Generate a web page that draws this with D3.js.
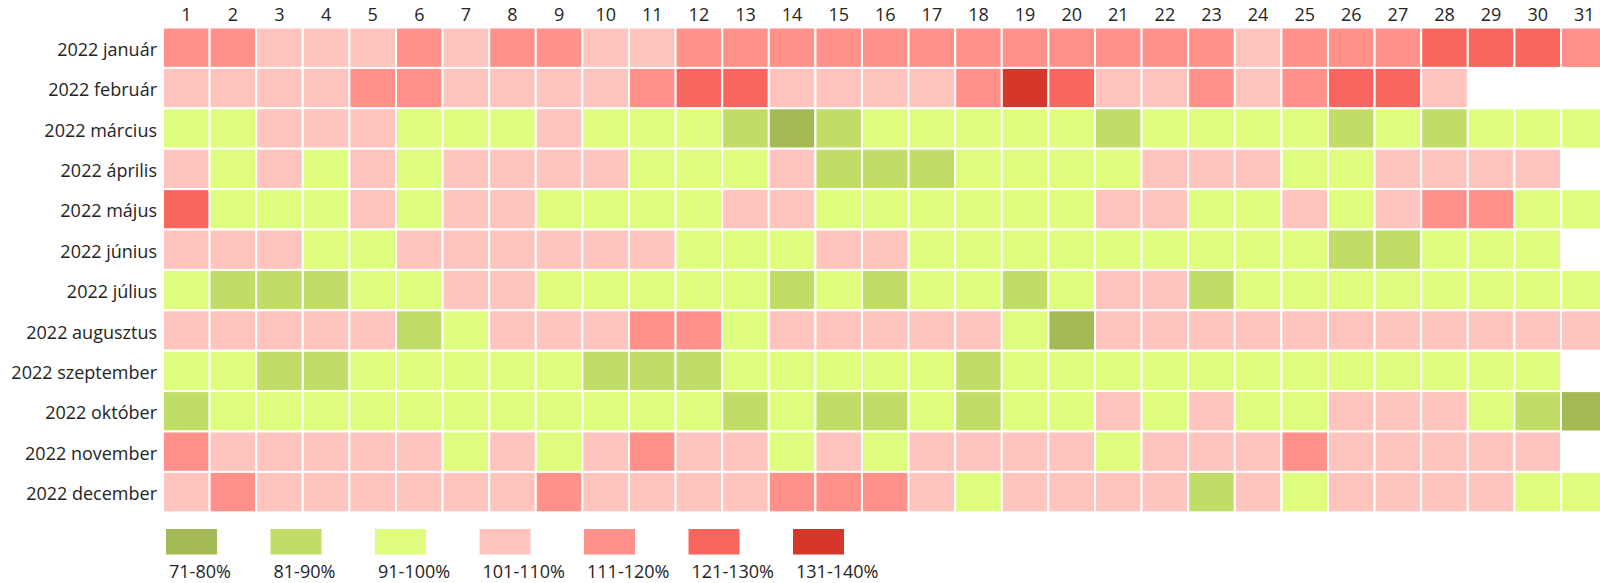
<!DOCTYPE html>
<html>
<head>
<meta charset="utf-8">
<script src="https://cdn.jsdelivr.net/npm/d3@7"></script>
<style>
  html, body { margin: 0; padding: 0; background: #fff; overflow: hidden; }
  svg { display: block; font-family: 'Open Sans', 'Noto Sans', sans-serif; }
</style>
</head>
<body>
<svg id="chart" width="1600" height="583"></svg>
<script>
const jan = [116,116,106,106,106,116,106,116,116,106,106,116,116,116,116,116,116,116,116,116,116,116,116,106,116,116,116,126,126,126,116];
const feb = [106,106,106,106,116,116,106,106,106,106,116,126,126,106,106,106,106,116,136,126,106,106,116,106,116,126,126,106];
const mar = [96,96,106,106,106,96,96,96,106,96,96,96,86,76,86,96,96,96,96,96,86,96,96,96,96,86,96,86,96,96,96];
const apr = [106,96,106,96,106,96,106,106,106,106,96,96,96,106,86,86,86,96,96,96,96,106,106,106,96,96,106,106,106,106];
const maj = [126,96,96,96,106,96,106,106,96,96,96,96,106,106,96,96,96,96,96,96,106,106,96,96,106,96,106,116,116,96,96];
const jun = [106,106,106,96,96,106,106,106,106,106,106,96,96,96,106,106,96,96,96,96,96,96,96,96,96,86,86,96,96,96];
const jul = [96,86,86,86,96,96,106,106,96,96,96,96,96,86,96,86,96,96,86,96,106,106,86,96,96,96,96,96,96,96,96];
const aug = [106,106,106,106,106,86,96,106,106,106,116,116,96,106,106,106,106,106,96,76,106,106,106,106,106,106,106,106,106,106,106];
const sep = [96,96,86,86,96,96,96,96,96,86,86,86,96,96,96,96,96,86,96,96,96,96,96,96,96,96,96,96,96,96];
const okt = [86,96,96,96,96,96,96,96,96,96,96,96,86,96,86,86,96,86,96,96,106,96,106,96,96,106,106,106,96,86,76];
const nov = [116,106,106,106,106,106,96,106,96,106,116,106,106,96,106,96,106,106,106,106,96,106,106,106,116,106,106,106,106,106];
const dec = [106,116,106,106,106,106,106,106,116,106,106,106,106,116,116,116,106,96,106,106,106,106,86,106,96,106,106,106,106,96,96];

const months = ['2022 január', '2022 február', '2022 március', '2022 április', '2022 május', '2022 június',
  '2022 július', '2022 augusztus', '2022 szeptember', '2022 október', '2022 november', '2022 december'];
const monthValues = [jan, feb, mar, apr, maj, jun, jul, aug, sep, okt, nov, dec];
const days = d3.range(1, 32);

const bandLabels = ['71-80%', '81-90%', '91-100%', '101-110%', '111-120%', '121-130%', '131-140%'];
const bandBreaks = [81, 91, 101, 111, 121, 131];
const bandColors = ['#A4BB55', '#C0DD68', '#DEFD7E', '#FFC4BE', '#FF918A', '#F9665E', '#D6372B'];

const svg = d3.select('#chart');
const gridLeft = 163, gridTop = 27.5;
const cellW = 46.6, cellH = 40.4;

const x = d3.scaleBand().domain(days).range([gridLeft, gridLeft + cellW * days.length]);
const y = d3.scaleBand().domain(months).range([gridTop, gridTop + cellH * months.length]);
const color = d3.scaleThreshold().domain(bandBreaks).range(bandColors);

const cells = [];
monthValues.forEach((vals, i) => {
  vals.forEach((v, j) => cells.push({ month: months[i], day: j + 1, value: v }));
});

svg.append('g')
  .selectAll('rect')
  .data(cells)
  .join('rect')
  .attr('x', (d) => x(d.day))
  .attr('y', (d) => y(d.month))
  .attr('width', x.bandwidth())
  .attr('height', y.bandwidth())
  .attr('fill', (d) => color(d.value))
  .attr('stroke', '#fff')
  .attr('stroke-width', 2);

// day numbers along the top
const xAxis = svg.append('g')
  .attr('transform', 'translate(0,21)')
  .call(d3.axisTop(x).tickSize(0).tickPadding(0));
xAxis.select('.domain').remove();
xAxis.selectAll('text')
  .attr('font-family', 'Open Sans')
  .attr('font-size', 18)
  .attr('fill', '#252423')
  .attr('dy', 0);

// month names on the left
const yAxis = svg.append('g')
  .attr('transform', 'translate(157,0)')
  .call(d3.axisLeft(y).tickSize(0).tickPadding(0));
yAxis.select('.domain').remove();
yAxis.selectAll('text')
  .attr('font-family', 'Open Sans')
  .attr('font-size', 18)
  .attr('fill', '#252423')
  .attr('dy', '0.45em');

// legend
const lx = d3.scaleBand().domain(bandLabels).range([166, 166 + 104.5 * bandLabels.length]);
const legend = svg.append('g')
  .selectAll('g')
  .data(bandLabels)
  .join('g')
  .attr('transform', (d) => `translate(${lx(d)},0)`);

legend.append('rect')
  .attr('y', 529)
  .attr('width', 51)
  .attr('height', 25.5)
  .attr('fill', (d, i) => bandColors[i]);

legend.append('text')
  .attr('x', 3)
  .attr('y', 578)
  .attr('font-size', 18)
  .attr('fill', '#252423')
  .text((d) => d);
</script>
</body>
</html>
